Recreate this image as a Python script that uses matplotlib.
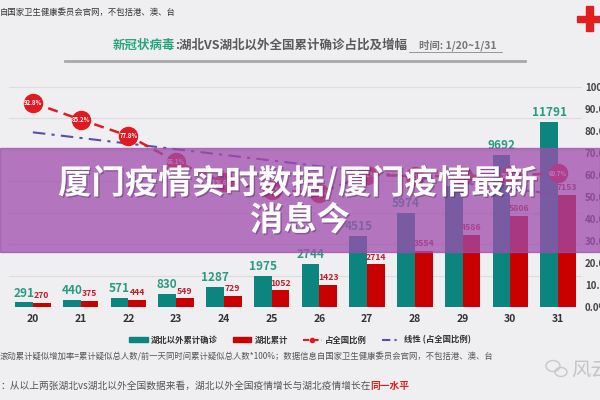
import matplotlib
matplotlib.use('Agg')
import matplotlib.pyplot as plt
from matplotlib.patches import Rectangle, Patch, Ellipse
from matplotlib.lines import Line2D
import matplotlib.patheffects as pe
import numpy as np

plt.rcParams['font.family'] = ['Noto Sans CJK SC', 'DejaVu Sans']

# 数据 (1月20日 - 1月31日)
days = ['20', '21', '22', '23', '24', '25', '26', '27', '28', '29', '30', '31']
outside = [291, 440, 571, 830, 1287, 1975, 2744, 4515, 5974, 7711, 9692, 11791]
hubei = [270, 375, 444, 549, 729, 1052, 1423, 2714, 3554, 4586, 5806, 7153]
share = [92.8, 85.2, 77.8, 66.1, 56.6, 53.3, 51.9, 60.1, 59.5, 59.5, 59.9, 60.7]
trend_ends = [79.4, 51.2]   # 线性趋势线 起点/终点 (%)
pct_ticks = [0, 10, 20, 30, 40, 50, 60, 70, 80, 90, 100]

bg = '#efeef1'
teal = '#0b857d'
red = '#c80000'
line_red = '#df1a22'
trend_col = '#5a4fa3'

fig = plt.figure(figsize=(6, 4), dpi=100, facecolor=bg)
ax = fig.add_axes([0.015, 0.2325, 0.955, 0.55])
ax.set_facecolor(bg)

x = np.arange(len(days))
w = 0.37
ax.bar(x - w / 2, outside, w, color=teal, zorder=2)
ax.bar(x + w / 2, hubei, w, color=red, zorder=2)
for i in range(len(days)):
    ax.annotate(str(outside[i]), (x[i] - w / 2, outside[i]), xytext=(0, 2),
                textcoords='offset points', ha='center', va='bottom',
                fontsize=8.5, color='#2a9a80', fontweight='bold')
    ax.annotate(str(hubei[i]), (x[i] + w / 2, hubei[i]), xytext=(0, 2),
                textcoords='offset points', ha='center', va='bottom',
                fontsize=6.3, color='#c0202a', fontweight='bold')

ax.set_xlim(-0.5, 11.5)
ax.set_ylim(0, 14000)
ax.set_yticks(range(0, 14001, 2000))
ax.set_yticklabels([])
ax.tick_params(axis='y', length=0)
ax.grid(axis='y', color='#dcdcdc', lw=0.8)
ax.set_axisbelow(True)
ax.set_xticks(x)
ax.set_xticklabels(days, fontsize=7.5, fontweight='bold', color='#333333')
ax.tick_params(axis='x', length=0, pad=5)
for s in ax.spines.values():
    s.set_visible(False)

ax2 = ax.twinx()
ax2.set_ylim(0, 1)
ax2.set_yticks([p / 100 for p in pct_ticks])
ax2.set_yticklabels([f'{p:.1f}%' for p in pct_ticks], fontsize=7,
                    fontweight='bold', color='#444444')
ax2.tick_params(axis='y', length=0, pad=2)
for s in ax2.spines.values():
    s.set_visible(False)

ax2.plot([x[0], x[-1]], np.array(trend_ends) / 100, color=trend_col, lw=1.5,
         dashes=(6, 3, 1.5, 3))
ax2.plot(x, np.array(share) / 100, color=line_red, lw=1.8, dashes=(4, 2.5),
         marker='o', ms=13, mfc=line_red, mec=line_red)
for i in range(len(days)):
    ax2.text(x[i], share[i] / 100, f'{share[i]}%', ha='center', va='center',
             fontsize=4.3, color='white', fontweight='bold')

# 顶部
fig.text(0.0, 1 - 12 / 400, '自国家卫生健康委员会官网，不包括港、澳、台',
         fontsize=6, color='#333333', va='center')
t1 = fig.text(113 / 600, 1 - 45 / 400, '新冠状病毒', fontsize=9, color='#2aa57c',
              fontweight='bold', va='center')
t2 = ax.annotate(':湖北VS湖北以外全国累计确诊占比及增幅', xy=(1, 0.5), xycoords=t1,
                 ha='left', va='center', fontsize=9, color='#5a5a5a',
                 fontweight='bold', annotation_clip=False)
t3 = ax.annotate('时间: 1/20~1/31', xy=(1, 0.5), xycoords=t2, xytext=(8, 0),
                 textcoords='offset points', ha='left', va='center',
                 fontsize=7.5, color='#777777', fontweight='bold',
                 annotation_clip=False)
fig.add_artist(Line2D([409 / 600, 502 / 600], [1 - 52 / 400, 1 - 52 / 400],
                      color='#888888', lw=0.6))
fig.add_artist(Line2D([65 / 600, 525 / 600], [1 - 61 / 400, 1 - 61 / 400],
                      color='#a8a8a8', lw=2))
# 红十字
fig.add_artist(Rectangle((577 / 600, 1 - 22 / 400), 23 / 600, 6 / 400,
                         transform=fig.transFigure, color='#e02020'))
fig.add_artist(Rectangle((586 / 600, 1 - 31 / 400), 7 / 600, 25 / 400,
                         transform=fig.transFigure, color='#e02020'))

# 图例
handles = [Patch(color=teal), Patch(color=red),
           Line2D([], [], color=line_red, lw=1.5, dashes=(3, 1.5), marker='o', ms=3),
           Line2D([], [], color=trend_col, lw=1.5, dashes=(4, 2, 1, 2))]
labels = ['湖北以外累计确诊', '湖北累计', '占全国比例', '线性 (占全国比例)']
leg = fig.legend(handles, labels, loc='center', bbox_to_anchor=(0.5, 1 - 340 / 400),
                 ncol=4, frameon=False, fontsize=6, columnspacing=1.8,
                 handlelength=2.2, handleheight=0.5, handletextpad=0.4)
for t in leg.get_texts():
    t.set_color('#333333')
    t.set_fontweight('bold')

# 底部说明
fig.text(0.0, 1 - 356 / 400,
         '滚动累计疑似增加率=累计疑似总人数/前一天同时间累计疑似总人数*100%；'
         '数据信息自国家卫生健康委员会官网，不包括港、澳、台',
         fontsize=6, color='#555555', va='center')
c1 = fig.text(0.0, 1 - 386 / 400,
              '：从以上两张湖北vs湖北以外全国数据来看，湖北以外全国疫情增长与湖北疫情增长在',
              fontsize=7, color='#555555', va='center')
ax.annotate('同一水平', xy=(1, 0.5), xycoords=c1, ha='left', va='center',
            fontsize=7, color='#e02020', fontweight='bold', annotation_clip=False)

# 水印
fig.add_artist(Ellipse((553 / 600, 1 - 366 / 400), 14 / 600, 11 / 400,
                       transform=fig.transFigure, fill=False, ec='#c8c8c8', lw=1))
fig.add_artist(Ellipse((561 / 600, 1 - 372 / 400), 12 / 600, 9 / 400,
                       transform=fig.transFigure, fill=False, ec='#c8c8c8', lw=1))
fig.text(571 / 600, 1 - 370 / 400, '风云', fontsize=14, color='#c4c4c4', va='center')

# 紫色横幅
fig.add_artist(Rectangle((0, 1 - 252 / 400), 1, 104 / 400, transform=fig.transFigure,
                         color=(0.62, 0.30, 0.68), alpha=0.75, zorder=5))
shadow = [pe.withSimplePatchShadow(offset=(1, -1), shadow_rgbFace='#3a1a40', alpha=0.35)]
fig.text(0.497, 1 - 183 / 400, '厦门疫情实时数据/厦门疫情最新', fontsize=24,
         fontweight='bold', color='white', ha='center', va='center', zorder=6,
         path_effects=shadow)
fig.text(0.5, 1 - 221 / 400, '消息今', fontsize=24, fontweight='bold',
         color='white', ha='center', va='center', zorder=6, path_effects=shadow)

fig.savefig('out.png', dpi=100, facecolor=bg)
